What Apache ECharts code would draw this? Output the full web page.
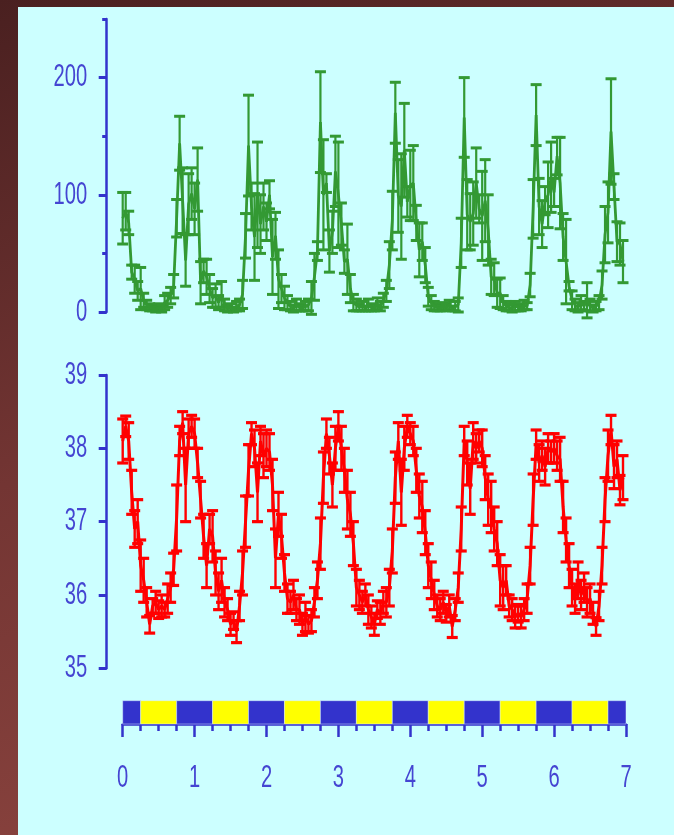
<!DOCTYPE html>
<html>
<head>
<meta charset="utf-8">
<script src="https://cdn.jsdelivr.net/npm/echarts@6/dist/echarts.min.js"></script>
<style>
  html, body { margin: 0; padding: 0; }
  body {
    width: 674px; height: 835px; position: relative; overflow: hidden;
    background: linear-gradient(160deg, #4a2020 0%, #733533 45%, #924842 100%);
  }
  #chart {
    position: absolute; left: 18px; top: 7px; width: 656px; height: 828px;
    background: #ccffff;
  }
</style>
</head>
<body>
<div id="chart"></div>
<script>
// Hourly samples over seven days (index = hour from start)
const activityMean = [
  80, 86, 76, 34, 28, 18, 20, 10, 6, 4, 3, 2, 4, 3, 8, 10, 14, 22, 80, 144, 95, 44, 92, 101,
  88, 113, 25, 35, 30, 20, 12, 14, 8, 15, 6, 3, 4, 2, 5, 6, 15, 65, 142, 90, 64, 100, 75, 90,
  77, 100, 47, 65, 28, 20, 12, 8, 5, 3, 6, 4, 3, 5, 6, 12, 30, 52, 162, 100, 110, 52, 68, 120,
  100, 75, 43, 45, 20, 8, 6, 4, 5, 3, 6, 4, 3, 7, 5, 10, 18, 40, 78, 170, 99, 90, 138, 94,
  108, 110, 76, 53, 60, 40, 13, 8, 5, 4, 3, 5, 4, 6, 3, 5, 6, 59, 166, 83, 77, 84, 110, 88,
  82, 95, 70, 30, 28, 16, 16, 8, 5, 4, 3, 5, 4, 3, 6, 5, 23, 88, 168, 90, 75, 95, 100, 115,
  102, 133, 110, 64, 43, 22, 10, 6, 4, 8, 5, 10, 6, 3, 5, 8, 23, 66, 85, 154, 107, 60, 58, 43
];
const activityErr = [
  22, 16, 10, 6, 12, 8, 18, 6, 4, 3, 2, 2, 3, 3, 6, 6, 7, 10, 16, 23, 28, 22, 26, 22,
  22, 27, 18, 10, 15, 12, 8, 10, 6, 11, 5, 3, 3, 2, 4, 5, 12, 19, 43, 20, 37, 45, 25, 20,
  16, 12, 32, 20, 25, 12, 10, 6, 4, 3, 5, 3, 2, 4, 5, 14, 20, 8, 43, 47, 8, 18, 18, 30,
  45, 18, 10, 30, 12, 7, 5, 3, 4, 2, 5, 3, 2, 5, 4, 6, 9, 20, 25, 26, 31, 45, 40, 13,
  30, 32, 15, 23, 16, 15, 8, 6, 4, 3, 2, 3, 3, 4, 2, 4, 6, 21, 34, 30, 24, 27, 30, 12,
  38, 35, 30, 15, 14, 12, 13, 6, 4, 3, 3, 4, 3, 2, 4, 3, 10, 25, 26, 24, 20, 12, 28, 30,
  12, 16, 39, 20, 36, 4, 8, 5, 4, 6, 4, 15, 5, 3, 4, 6, 12, 24, 26, 45, 11, 17, 18, 18
];
const tempMean = [
  38.1, 38.3, 38.1, 37.4, 36.9, 37.0, 36.4, 36.2, 35.9, 35.6, 35.85, 35.9, 35.8, 35.85, 35.8, 35.95, 36.1, 36.35, 37.05, 38.1, 38.35, 37.5, 38.2, 38.3,
  38.2, 37.8, 37.3, 36.8, 36.4, 36.9, 36.8, 36.3, 36.05, 36.2, 35.9, 35.8, 35.6, 35.65, 35.5, 35.85, 36.3, 37.0, 37.7, 38.2, 38.0, 37.4, 38.1, 37.9,
  38.0, 37.95, 37.5, 36.5, 37.1, 36.8, 36.3, 35.95, 35.9, 36.0, 35.8, 35.8, 35.6, 35.7, 35.6, 35.65, 35.9, 36.2, 36.7, 37.6, 38.2, 37.9, 37.5, 38.0,
  38.3, 38.0, 37.7, 37.3, 37.1, 36.7, 36.1, 36.0, 35.9, 36.0, 35.8, 35.7, 35.6, 35.8, 35.75, 35.9, 35.9, 36.1, 36.6, 37.6, 38.1, 37.4, 38.0, 38.3,
  38.2, 38.1, 37.7, 37.35, 37.2, 36.85, 36.4, 36.2, 36.0, 35.85, 35.8, 35.9, 35.75, 35.85, 35.57, 35.8, 36.1, 36.9, 38.1, 37.8, 37.45, 38.1, 38.0, 38.1,
  38.0, 37.6, 37.3, 37.2, 36.9, 36.7, 36.2, 36.1, 36.2, 35.85, 35.8, 35.7, 35.75, 35.7, 35.8, 35.95, 36.4, 37.3, 38.05, 37.8, 37.9, 37.75, 38.0, 37.95,
  38.0, 37.9, 37.85, 37.2, 36.75, 36.4, 36.1, 35.95, 36.2, 36.0, 36.1, 35.9, 35.95, 35.75, 35.57, 35.85, 36.4, 37.3, 37.9, 38.25, 37.75, 37.85, 37.43, 37.6
];
const tempErr = [
  0.3, 0.14, 0.25, 0.3, 0.25, 0.3, 0.35, 0.3, 0.2, 0.12, 0.1, 0.15, 0.12, 0.15, 0.1, 0.2, 0.2, 0.22, 0.45, 0.2, 0.15, 0.5, 0.2, 0.15,
  0.2, 0.2, 0.25, 0.3, 0.3, 0.2, 0.35, 0.3, 0.25, 0.3, 0.2, 0.15, 0.15, 0.12, 0.15, 0.2, 0.3, 0.35, 0.35, 0.15, 0.25, 0.4, 0.2, 0.3,
  0.25, 0.25, 0.35, 0.4, 0.3, 0.3, 0.25, 0.2, 0.15, 0.2, 0.15, 0.2, 0.15, 0.2, 0.12, 0.15, 0.2, 0.25, 0.35, 0.35, 0.2, 0.25, 0.3, 0.3,
  0.2, 0.3, 0.3, 0.4, 0.3, 0.3, 0.25, 0.2, 0.15, 0.15, 0.2, 0.15, 0.15, 0.12, 0.15, 0.15, 0.2, 0.25, 0.3, 0.35, 0.25, 0.45, 0.3, 0.15,
  0.15, 0.2, 0.3, 0.3, 0.35, 0.3, 0.3, 0.25, 0.2, 0.15, 0.15, 0.15, 0.12, 0.15, 0.15, 0.15, 0.2, 0.3, 0.2, 0.3, 0.35, 0.25, 0.2, 0.15,
  0.25, 0.3, 0.35, 0.35, 0.3, 0.3, 0.35, 0.3, 0.2, 0.15, 0.15, 0.15, 0.12, 0.15, 0.15, 0.2, 0.25, 0.35, 0.2, 0.25, 0.2, 0.25, 0.2, 0.15,
  0.2, 0.2, 0.3, 0.35, 0.3, 0.3, 0.25, 0.2, 0.25, 0.2, 0.2, 0.2, 0.2, 0.15, 0.12, 0.2, 0.25, 0.3, 0.35, 0.2, 0.3, 0.25, 0.2, 0.3
];

// Light/dark schedule (hours): start, end, phase
const phaseStart = [0, 6, 18, 30, 42, 54, 66, 78, 90, 102, 114, 126, 138, 150, 162];
const phaseEnd   = [6, 18, 30, 42, 54, 66, 78, 90, 102, 114, 126, 138, 150, 162, 168];
const phaseKind  = ['dark', 'light', 'dark', 'light', 'dark', 'light', 'dark', 'light',
                    'dark', 'light', 'dark', 'light', 'dark', 'light', 'dark'];

// Axis tick values and labels
const activityMajor = [0, 100, 200];
const activityMinor = [50, 150, 250];
const tempTicks = [35, 36, 37, 38, 39];
const dayTicks = [0, 1, 2, 3, 4, 5, 6, 7];

const AXIS_BLUE = '#3333cc';
const LABEL_BLUE = '#4545d2';
const LABEL_FONT = "32px 'Liberation Sans', Arial, sans-serif";
const LABEL_SQUEEZE = 0.63;   // narrow, tall digits
const GREEN = '#339933';
const RED = '#ff0000';

// The panel plots keep a small gap between the y axis and the first sample
const LEAD_HOURS = 5.343;

function errorBars(color, stemWidth, capWidth) {
  return function (params, api) {
    const x = api.value(0);
    const lo = api.coord([x, api.value(1)]);
    const hi = api.coord([x, api.value(2)]);
    const half = 5.5;
    return {
      type: 'group',
      children: [
        { type: 'line', shape: { x1: lo[0], y1: lo[1], x2: hi[0], y2: hi[1] },
          style: { stroke: color, lineWidth: stemWidth } },
        { type: 'line', shape: { x1: hi[0] - half, y1: hi[1], x2: hi[0] + half, y2: hi[1] },
          style: { stroke: color, lineWidth: capWidth } },
        { type: 'line', shape: { x1: lo[0] - half, y1: lo[1], x2: lo[0] + half, y2: lo[1] },
          style: { stroke: color, lineWidth: capWidth } }
      ]
    };
  };
}

const chart = echarts.init(document.getElementById('chart'), null, { renderer: 'canvas' });

const option = {
  animation: false,
  backgroundColor: '#ccffff',
  grid: [
    { left: 88.7, right: 48, top: 12, height: 293 },
    { left: 88.7, right: 48, top: 368, height: 293.3 },
    { left: 104.7, right: 48, top: 693.7, height: 23.3 }
  ],
  xAxis: [
    { type: 'value', gridIndex: 0, min: -LEAD_HOURS, max: 168, show: false },
    { type: 'value', gridIndex: 1, min: -LEAD_HOURS, max: 168, show: false },
    {
      type: 'value', gridIndex: 2, min: 0, max: 168, interval: 24,
      axisLine: { show: true, onZero: false, lineStyle: { color: AXIS_BLUE, width: 2.5 } },
      axisTick: { show: true, length: 13, lineStyle: { color: AXIS_BLUE, width: 2.5 } },
      minorTick: { show: true, splitNumber: 4, length: 7, lineStyle: { color: AXIS_BLUE, width: 2.5 } },
      splitLine: { show: false },
      minorSplitLine: { show: false },
      axisLabel: { show: false }
    }
  ],
  yAxis: [
    {
      type: 'value', gridIndex: 0, min: 0, max: 250, position: 'left',
      axisLine: { show: true, onZero: false, lineStyle: { color: AXIS_BLUE, width: 2.5 } },
      axisTick: { show: true, length: 8, customValues: activityMajor, lineStyle: { color: AXIS_BLUE, width: 3 } },
      axisLabel: { show: false },
      splitLine: { show: false }
    },
    {
      type: 'value', gridIndex: 0, min: 0, max: 250, position: 'left',
      axisLine: { show: false, onZero: false },
      axisTick: { show: true, length: 4.5, customValues: activityMinor, lineStyle: { color: AXIS_BLUE, width: 3 } },
      axisLabel: { show: false },
      splitLine: { show: false }
    },
    {
      type: 'value', gridIndex: 1, min: 35, max: 39, interval: 1, position: 'left',
      axisLine: { show: true, onZero: false, lineStyle: { color: AXIS_BLUE, width: 2.5 } },
      axisTick: { show: true, length: 8, lineStyle: { color: AXIS_BLUE, width: 3 } },
      axisLabel: { show: false },
      splitLine: { show: false }
    },
    { type: 'value', gridIndex: 2, min: 0, max: 1, show: false }
  ],
  series: [
    {
      type: 'line', xAxisIndex: 0, yAxisIndex: 0, showSymbol: false,
      data: activityMean.map((v, i) => [i, v]),
      lineStyle: { color: GREEN, width: 2.8 }
    },
    {
      type: 'custom', xAxisIndex: 0, yAxisIndex: 0,
      renderItem: errorBars(GREEN, 2.2, 3),
      data: activityMean.map((v, i) => [i, v - activityErr[i], v + activityErr[i]])
    },
    {
      type: 'line', xAxisIndex: 1, yAxisIndex: 2, showSymbol: false,
      data: tempMean.map((v, i) => [i, v]),
      lineStyle: { color: RED, width: 3 }
    },
    {
      type: 'custom', xAxisIndex: 1, yAxisIndex: 2,
      renderItem: errorBars(RED, 2.4, 3.2),
      data: tempMean.map((v, i) => [i, +(v - tempErr[i]).toFixed(3), +(v + tempErr[i]).toFixed(3)])
    },
    {
      type: 'custom', xAxisIndex: 2, yAxisIndex: 3,
      renderItem: function (params, api) {
        const p0 = api.coord([api.value(0), 1]);
        const p1 = api.coord([api.value(1), 0]);
        const dark = api.value(2) === 0;
        return {
          type: 'rect',
          shape: { x: p0[0], y: p0[1], width: p1[0] - p0[0], height: p1[1] - p0[1] },
          style: { fill: dark ? '#3333cc' : '#ffff00', stroke: 'rgba(220,240,255,0.6)', lineWidth: 0.8 }
        };
      },
      data: phaseStart.map((s, i) => [s, phaseEnd[i], phaseKind[i] === 'dark' ? 0 : 1]),
      z: 1
    }
  ]
};

chart.setOption(option);

// Tick labels in a tall, narrow face, placed at the axes' own tick positions
function tickLabel(text, x, y, align) {
  return {
    type: 'text', x: x, y: y, scaleX: LABEL_SQUEEZE, z: 10,
    style: { text: text, fill: LABEL_BLUE, font: LABEL_FONT, align: align, verticalAlign: 'middle' }
  };
}
const labels = [];
const activityAxisX = chart.convertToPixel({ xAxisIndex: 0 }, -LEAD_HOURS);
activityMajor.forEach(v => {
  labels.push(tickLabel(String(v), activityAxisX - 19.5, chart.convertToPixel({ yAxisIndex: 0 }, v), 'right'));
});
const tempAxisX = chart.convertToPixel({ xAxisIndex: 1 }, -LEAD_HOURS);
tempTicks.forEach(v => {
  labels.push(tickLabel(String(v), tempAxisX - 19.5, chart.convertToPixel({ yAxisIndex: 2 }, v), 'right'));
});
const dayAxisY = chart.convertToPixel({ yAxisIndex: 3 }, 0);
dayTicks.forEach(d => {
  labels.push(tickLabel(String(d), chart.convertToPixel({ xAxisIndex: 2 }, d * 24), dayAxisY + 54, 'center'));
});
chart.setOption({ graphic: labels });
</script>
</body>
</html>
